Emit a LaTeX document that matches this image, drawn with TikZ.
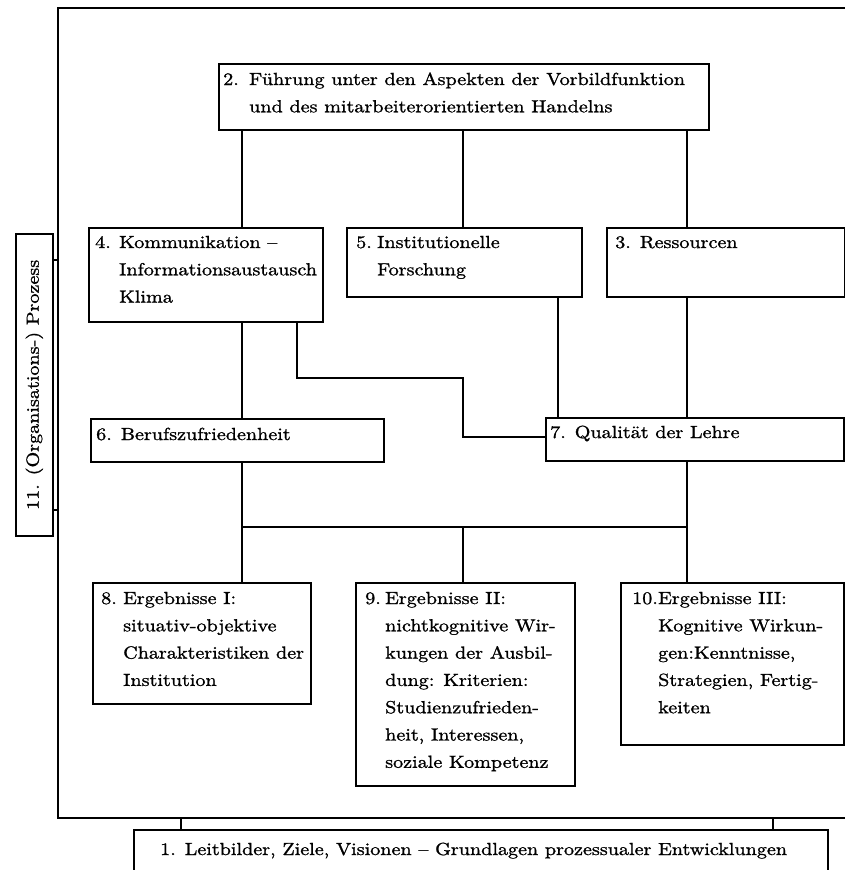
\documentclass[tikz,border=0pt]{standalone}
\usepackage{fontspec}
\setmainfont{lmroman10-regular.otf}[FakeStretch=1.15,FakeBold=1.2]
\newcommand\lbl[2]{\makebox[#1pt][l]{#2}}
\begin{document}
\begin{tikzpicture}[x=1pt,y=-1pt,
  box/.style={draw, line width=1.7pt, inner sep=0pt, anchor=north west},
  txt/.style={inner sep=0pt, anchor=base west, align=left},
  wire/.style={line width=1.7pt},
  font=\fontsize{17.5}{27.3}\selectfont]
\useasboundingbox (0,0) rectangle (845,870);
\clip (0,0) rectangle (845,870);
% outer frame
\coordinate (fTL) at (58,8);
\coordinate (fBL) at (58,818);
\coordinate (fTR) at (850,8);
\coordinate (fBR) at (850,818);
\draw[wire] (fTR) -- (fTL) -- (fBL) -- (fBR);
% boxes
\node[box, minimum width=490pt, minimum height=66pt] (b2) at (218,63) {};
\node[box, minimum width=234pt, minimum height=94pt] (b4) at (88,227) {};
\node[box, minimum width=235pt, minimum height=69pt] (b5) at (346,227) {};
\node[box, minimum width=238pt, minimum height=69pt] (b3) at (606,227) {};
\node[box, minimum width=293pt, minimum height=43pt] (b6) at (90,418) {};
\node[box, minimum width=298pt, minimum height=43pt] (b7) at (545,417) {};
\node[box, minimum width=218pt, minimum height=121pt] (b8) at (92,582) {};
\node[box, minimum width=219pt, minimum height=203pt] (b9) at (355,582) {};
\node[box, minimum width=223pt, minimum height=162pt] (b10) at (620,582) {};
\node[box, minimum width=694pt, minimum height=80pt] (b1) at (133,829) {};
\node[box, minimum width=37pt, minimum height=302pt] (b11) at (15,233) {};
% texts
\node[txt] (t2) at (223,85) {\begin{tabular}[t]{@{}l@{}l@{}}\lbl{26}{2.} & Führung unter den Aspekten der Vorbildfunktion\\ & und des mitarbeiterorientierten Handelns\end{tabular}};
\node[txt] (t4) at (95,248) {\begin{tabular}[t]{@{}l@{}l@{}}\lbl{24}{4.} & Kommunikation –\\ & Informationsaustausch\\ & Klima\end{tabular}};
\node[txt] (t5) at (356,248) {\begin{tabular}[t]{@{}l@{}l@{}}\lbl{21}{5.} & Institutionelle\\ & Forschung\end{tabular}};
\node[txt] (t3) at (615,248) {3. Ressourcen};
\node[txt] (t6) at (96,440) {6. Berufszufriedenheit};
\node[txt] (t7) at (550,438) {7. Qualität der Lehre};
\node[txt] (t8) at (101,604) {\begin{tabular}[t]{@{}l@{}l@{}}\lbl{22}{8.} & Ergebnisse I:\\ & situativ-objektive\\ & Charakteristiken der\\ & Institution\end{tabular}};
\node[txt] (t9) at (365,604) {\begin{tabular}[t]{@{}l@{}l@{}}\lbl{20}{9.} & Ergebnisse II:\\ & nichtkognitive Wir-\\ & kungen der Ausbil-\\ & dung: Kriterien:\\ & Studienzufrieden-\\ & heit, Interessen,\\ & soziale Kompetenz\end{tabular}};
\node[txt] (t10) at (632,604) {\begin{tabular}[t]{@{}l@{}l@{}}\lbl{26}{10.} & Ergebnisse III:\\ & Kognitive Wirkun-\\ & gen:Kenntnisse,\\ & Strategien, Fertig-\\ & keiten\end{tabular}};
\node[txt] (t1) at (160,855) {1. Leitbilder, Ziele, Visionen – Grundlagen prozessualer Entwicklungen};
\node[inner sep=0pt, rotate=90] (t11) at (b11.center) {11. (Organisations-) Prozess};
% column coordinates
\coordinate (cA) at (242,0);
\coordinate (cB) at (463,0);
\coordinate (cC) at (687,0);
\coordinate (cD) at (297,0);
\coordinate (cE) at (558,0);
\coordinate (e1) at (463,378);
\coordinate (e2) at (463,437);
\coordinate (bus) at (0,527);
% connectors
\draw[wire] (b2.south -| cA) -- (b4.north -| cA);
\draw[wire] (b2.south -| cB) -- (b5.north -| cB);
\draw[wire] (b2.south -| cC) -- (b3.north -| cC);
\draw[wire] (b4.south -| cA) -- (b6.north -| cA);
\draw[wire] (b4.south -| cD) |- (e1) -- (e2) -- (e2 -| b7.west);
\draw[wire] (b5.south -| cE) -- (b7.north -| cE);
\draw[wire] (b3.south -| cC) -- (b7.north -| cC);
\draw[wire] (b6.south -| cA) -- (b8.north -| cA);
\draw[wire] (b7.south -| cC) -- (b10.north -| cC);
\draw[wire] (bus -| cA) -- (bus -| cC);
\draw[wire] (bus -| cB) -- (b9.north -| cB);
% left ticks
\coordinate (y1) at (0,260);
\coordinate (y2) at (0,510);
\draw[wire] (b11.east |- y1) -- (fTL |- y1);
\draw[wire] (b11.east |- y2) -- (fTL |- y2);
% bottom ticks
\coordinate (x1) at (181,0);
\coordinate (x2) at (773,0);
\draw[wire] (fBL -| x1) -- (b1.north -| x1);
\draw[wire] (fBL -| x2) -- (b1.north -| x2);
\end{tikzpicture}
\end{document}
